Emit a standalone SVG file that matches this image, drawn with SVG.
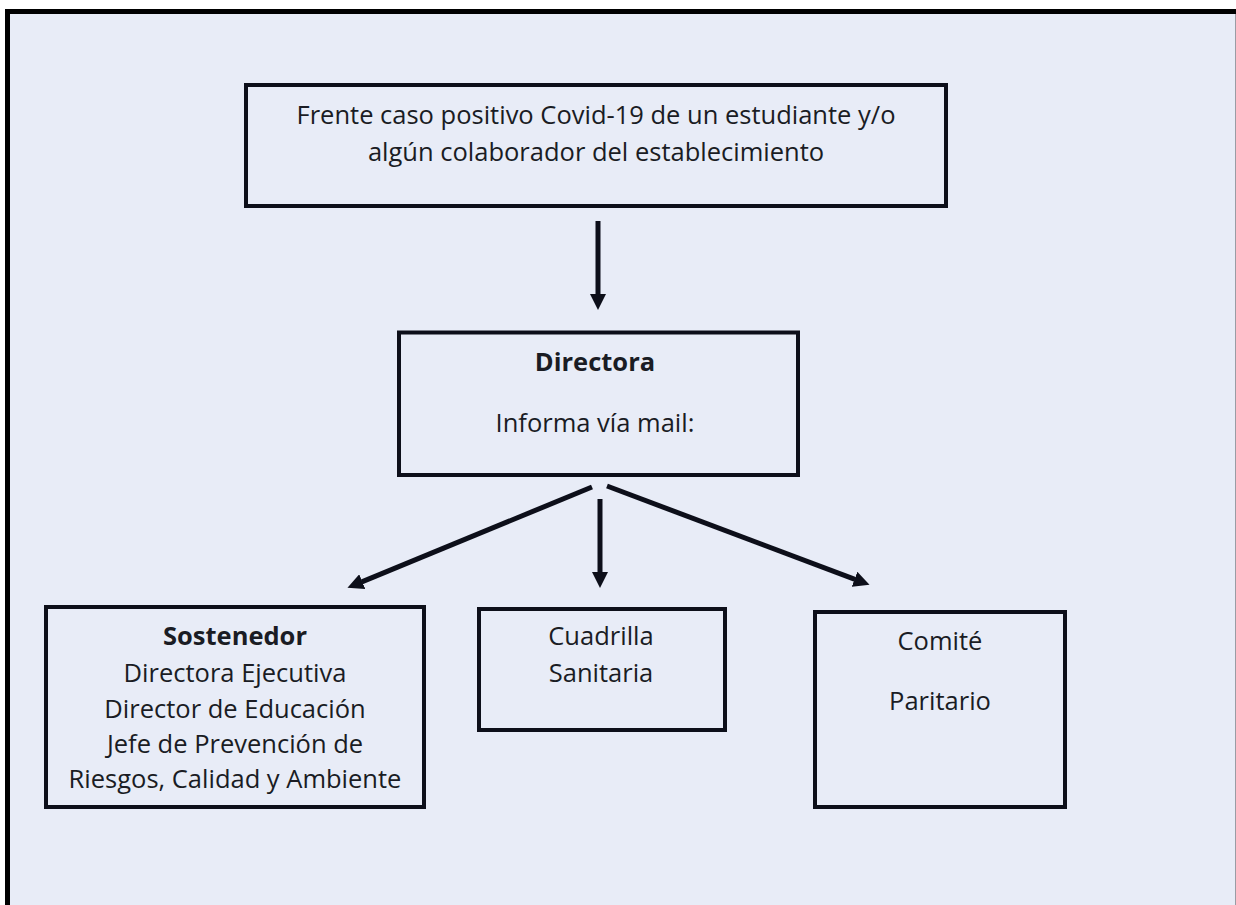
<svg xmlns="http://www.w3.org/2000/svg" width="1236" height="905" viewBox="0 0 1236 905">
<style>
.box{fill:none;stroke:#0d0f1a;stroke-width:4}
.t{font-family:"Open Sans","Liberation Sans",sans-serif;font-size:25.5px;fill:#1a1c24;text-anchor:middle}
.b{font-weight:bold}
.conn{stroke:#0d0f1a;stroke-width:5;fill:none}
</style>
<defs>
<marker id="ah" markerUnits="userSpaceOnUse" markerWidth="16" markerHeight="16" viewBox="0 0 16 16" refX="0.5" refY="8" orient="auto">
<path d="M0,0 L16,8 L0,16 Z" fill="#0d0f1a"/>
</marker>
</defs>
<rect x="0" y="0" width="1236" height="905" fill="#ffffff"/>
<rect x="5" y="9" width="1231" height="896" fill="#e8ecf7"/>
<line x1="5" y1="11.5" x2="1236" y2="11.5" stroke="#000" stroke-width="5"/>
<line x1="7.5" y1="9" x2="7.5" y2="905" stroke="#000" stroke-width="5"/>
<line x1="1235.5" y1="14" x2="1235.5" y2="905" stroke="#9a9ca4" stroke-width="1"/>

<g id="connectors">
<line class="conn" x1="598" y1="221" x2="598" y2="294.5" marker-end="url(#ah)"/>
<line class="conn" x1="592" y1="487" x2="361.8" y2="581.9" marker-end="url(#ah)"/>
<line class="conn" x1="600" y1="499" x2="600" y2="572.5" marker-end="url(#ah)"/>
<line class="conn" x1="607" y1="486" x2="855" y2="579.4" marker-end="url(#ah)"/>
</g>

<g id="node-frente">
<rect class="box" x="246" y="85" width="700" height="121"/>
<text class="t" x="596" y="124">Frente caso positivo Covid-19 de un estudiante y/o</text>
<text class="t" x="596" y="161">algún colaborador del establecimiento</text>
</g>

<g id="node-directora">
<rect class="box" x="399" y="332.5" width="399" height="142.5"/>
<text class="t b" x="595" y="371">Directora</text>
<text class="t" x="595" y="432">Informa vía mail:</text>
</g>

<g id="node-sostenedor">
<rect class="box" x="46" y="607" width="378" height="200"/>
<text class="t b" x="235" y="645">Sostenedor</text>
<text class="t" x="235" y="682">Directora Ejecutiva</text>
<text class="t" x="235" y="718">Director de Educación</text>
<text class="t" x="235" y="753">Jefe de Prevención de</text>
<text class="t" x="235" y="788">Riesgos, Calidad y Ambiente</text>
</g>

<g id="node-cuadrilla">
<rect class="box" x="479" y="609" width="246" height="121"/>
<text class="t" x="601" y="645">Cuadrilla</text>
<text class="t" x="601" y="682">Sanitaria</text>
</g>

<g id="node-comite">
<rect class="box" x="815" y="612" width="250" height="195"/>
<text class="t" x="940" y="650">Comité</text>
<text class="t" x="940" y="710">Paritario</text>
</g>
</svg>
